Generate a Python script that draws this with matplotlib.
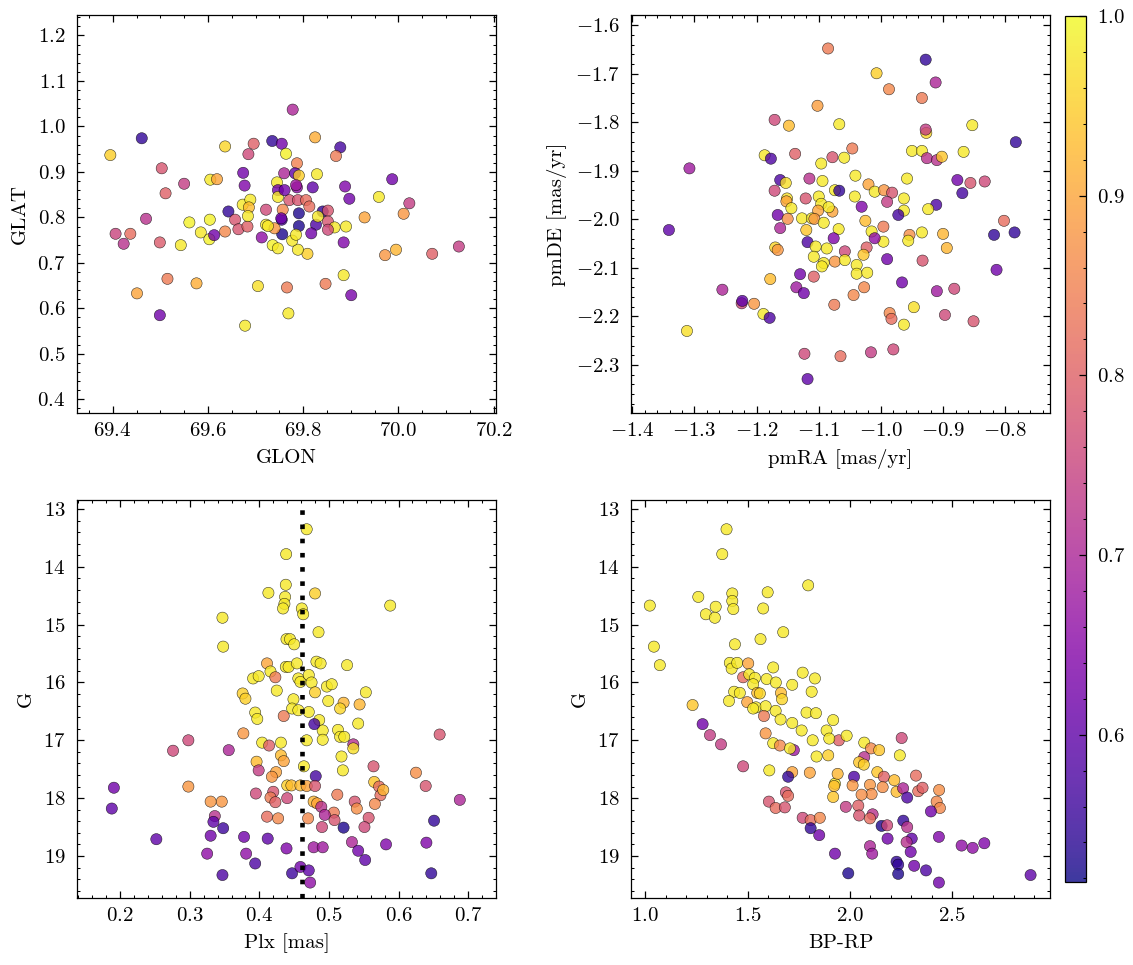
import matplotlib
matplotlib.use("Agg")
import matplotlib.pyplot as plt
from matplotlib.ticker import MultipleLocator
import numpy as np

# membership probability colour scale
p_min, p_max = 0.518, 1.0
plx_line = 0.461

# --- GLON / GLAT panel
glon = [69.395, 69.461, 69.503, 69.511, 69.550, 69.470, 69.406, 69.423, 69.437, 69.499,
        69.543, 69.561, 69.515, 69.451, 69.499, 69.576, 69.636, 69.696, 69.685, 69.605,
        69.619, 69.674, 69.677, 69.585, 69.604, 69.603, 69.613, 69.643, 69.636, 69.657,
        69.664, 69.683, 69.673, 69.689, 69.686, 69.684, 69.713, 69.705, 69.678, 69.766,
        69.769, 69.735, 69.755, 69.764, 69.760, 69.745, 69.747, 69.755, 69.756, 69.778,
        69.736, 69.747, 69.722, 69.722, 69.825, 69.878, 69.869, 69.787, 69.783, 69.829,
        69.791, 69.787, 69.820, 69.888, 69.897, 69.959, 70.023, 70.011, 69.987, 69.929,
        69.841, 69.852, 69.852, 69.866, 69.890, 69.827, 69.817, 69.791, 69.791, 69.885,
        69.972, 69.995, 70.071, 70.127, 69.809, 69.789, 69.777, 69.847, 69.885, 69.901,
        69.771, 69.789, 69.806, 69.757, 69.754, 69.852, 69.785, 69.740, 69.726, 69.747,
        69.761, 69.785, 69.813, 69.831]
glat = [0.937, 0.974, 0.908, 0.853, 0.874, 0.797, 0.764, 0.742, 0.764, 0.745,
        0.739, 0.789, 0.665, 0.633, 0.585, 0.655, 0.956, 0.962, 0.939, 0.883,
        0.884, 0.898, 0.870, 0.767, 0.795, 0.752, 0.761, 0.813, 0.769, 0.795,
        0.774, 0.780, 0.828, 0.839, 0.822, 0.803, 0.756, 0.649, 0.562, 0.646,
        0.589, 0.968, 0.962, 0.940, 0.897, 0.877, 0.860, 0.795, 0.763, 1.037,
        0.739, 0.732, 0.817, 0.784, 0.976, 0.954, 0.935, 0.919, 0.897, 0.895,
        0.892, 0.866, 0.866, 0.868, 0.841, 0.845, 0.831, 0.808, 0.884, 0.800,
        0.813, 0.815, 0.791, 0.778, 0.780, 0.784, 0.765, 0.809, 0.781, 0.745,
        0.717, 0.729, 0.720, 0.736, 0.720, 0.729, 0.749, 0.654, 0.673, 0.629,
        0.838, 0.838, 0.838, 0.817, 0.798, 0.773, 0.762, 0.776, 0.781, 0.845,
        0.860, 0.871, 0.824, 0.802]
prob_pos = [0.95, 0.55, 0.78, 0.80, 0.74, 0.72, 0.75, 0.72, 0.82, 0.79,
            0.98, 0.99, 0.84, 0.90, 0.62, 0.91, 0.96, 0.80, 0.76, 0.98,
            0.90, 0.62, 0.64, 0.98, 0.99, 0.99, 0.62, 0.55, 0.86, 0.78,
            0.78, 0.80, 0.98, 0.98, 0.93, 0.98, 0.66, 0.97, 0.98, 0.84,
            0.98, 0.55, 0.62, 0.99, 0.70, 0.98, 0.62, 0.58, 0.53, 0.70,
            0.99, 0.98, 0.76, 0.98, 0.91, 0.57, 0.84, 0.85, 0.60, 0.98,
            0.95, 0.66, 0.60, 0.64, 0.62, 0.98, 0.74, 0.88, 0.62, 0.90,
            0.55, 0.78, 0.78, 0.98, 0.98, 0.58, 0.62, 0.53, 0.53, 0.64,
            0.88, 0.92, 0.80, 0.74, 0.95, 0.98, 0.98, 0.84, 0.98, 0.63,
            0.78, 0.78, 0.82, 0.86, 0.62, 0.76, 0.98, 0.88, 0.98, 0.98,
            0.62, 0.68, 0.82, 0.98]

# --- proper motion panel
pmra = [-1.085, -1.102, -1.148, -1.171, -1.067, -1.187, -1.177, -1.138, -1.078, -1.308,
        -1.096, -1.162, -1.153, -1.115, -1.094, -1.171, -1.121, -1.074, -1.067, -1.151,
        -1.152, -1.144, -1.100, -1.096, -1.101, -1.078, -1.084, -1.127, -1.111, -1.107,
        -1.092, -1.166, -1.150, -1.162, -1.120, -1.068, -1.076, -1.118, -1.341, -1.170,
        -1.166, -1.105, -1.087, -1.108, -1.092, -1.095, -1.074, -1.178, -1.130, -1.108,
        -1.136, -1.124, -1.255, -1.224, -1.223, -1.204, -1.189, -1.179, -1.075, -1.312,
        -1.123, -1.118, -1.065,
        -0.928, -1.007, -0.912, -0.987, -0.934, -0.853, -0.927, -0.928, -0.783, -1.046,
        -1.059, -0.950, -0.934, -0.926, -0.910, -0.902, -0.867, -1.041, -0.958, -0.877,
        -0.856, -0.833, -0.869, -1.042, -1.020, -1.010, -0.995, -0.982, -0.990, -0.963,
        -0.963, -1.031, -0.972, -0.911, -0.924, -1.025, -0.996, -1.015, -0.996, -1.010,
        -0.954, -0.956, -0.934, -0.900, -0.894, -0.818, -0.785, -0.802, -0.814, -0.990,
        -0.933, -1.023, -1.028, -1.058, -1.039, -1.039, -1.022, -1.058, -0.966, -0.910,
        -0.882, -1.027, -1.044, -0.947, -0.986, -0.983, -0.963, -0.897, -0.851, -0.980,
        -1.016]
pmde = [-1.648, -1.766, -1.807, -1.795, -1.804, -1.868, -1.875, -1.865, -1.872, -1.895,
        -1.885, -1.919, -1.925, -1.916, -1.921, -1.941, -1.957, -1.940, -1.941, -1.957,
        -1.963, -1.977, -1.953, -1.968, -1.982, -1.984, -1.975, -1.998, -1.998, -1.999,
        -2.007, -1.991, -1.999, -2.018, -2.022, -2.020, -2.039, -2.047, -2.022, -2.058,
        -2.063, -2.056, -2.060, -2.077, -2.090, -2.097, -2.087, -2.123, -2.113, -2.118,
        -2.140, -2.152, -2.145, -2.173, -2.168, -2.174, -2.195, -2.203, -2.176, -2.230,
        -2.277, -2.329, -2.282,
        -1.671, -1.699, -1.718, -1.732, -1.750, -1.806, -1.822, -1.815, -1.841, -1.854,
        -1.873, -1.859, -1.859, -1.874, -1.878, -1.871, -1.861, -1.910, -1.916, -1.919,
        -1.925, -1.922, -1.946, -1.953, -1.928, -1.943, -1.940, -1.945, -1.964, -1.957,
        -1.982, -1.974, -1.991, -1.970, -1.979, -2.003, -2.015, -2.025, -2.046, -2.039,
        -2.032, -2.044, -2.027, -2.030, -2.059, -2.032, -2.027, -2.003, -2.104, -2.082,
        -2.085, -2.058, -2.073, -2.066, -2.094, -2.112, -2.110, -2.084, -2.130, -2.148,
        -2.143, -2.140, -2.156, -2.181, -2.193, -2.205, -2.217, -2.197, -2.210, -2.268,
        -2.274]
prob_pm = [0.84, 0.89, 0.93, 0.76, 0.98, 0.98, 0.58, 0.80, 0.78, 0.68,
           0.98, 0.58, 0.97, 0.72, 0.98, 0.76, 0.78, 0.98, 0.55, 0.97,
           0.90, 0.98, 0.98, 0.98, 0.90, 0.90, 0.98, 0.98, 0.98, 0.88,
           0.98, 0.62, 0.87, 0.70, 0.94, 0.98, 0.64, 0.58, 0.60, 0.96,
           0.88, 0.98, 0.98, 0.98, 0.98, 0.98, 0.88, 0.93, 0.62, 0.80,
           0.68, 0.62, 0.70, 0.76, 0.60, 0.88, 0.98, 0.58, 0.84, 0.97,
           0.76, 0.60, 0.82,
           0.55, 0.95, 0.70, 0.86, 0.84, 0.98, 0.96, 0.74, 0.55, 0.84,
           0.98, 0.98, 0.98, 0.72, 0.72, 0.94, 0.98, 0.98, 0.98, 0.62,
           0.78, 0.76, 0.57, 0.98, 0.90, 0.98, 0.88, 0.78, 0.74, 0.98,
           0.98, 0.64, 0.57, 0.58, 0.98, 0.93, 0.84, 0.98, 0.98, 0.66,
           0.87, 0.98, 0.98, 0.92, 0.92, 0.55, 0.55, 0.82, 0.62, 0.62,
           0.78, 0.80, 0.94, 0.76, 0.98, 0.98, 0.98, 0.98, 0.62, 0.68,
           0.76, 0.86, 0.86, 0.97, 0.86, 0.82, 0.98, 0.76, 0.78, 0.76,
           0.74]

# --- parallax vs G panel
plx = [0.4385, 0.413, 0.438, 0.437, 0.436, 0.434, 0.347, 0.348, 0.439, 0.411,
       0.416, 0.423, 0.391, 0.399, 0.438, 0.425, 0.376, 0.380, 0.435, 0.394,
       0.397, 0.377, 0.404, 0.431, 0.414, 0.298, 0.276, 0.356, 0.431, 0.435,
       0.396, 0.399, 0.424, 0.418, 0.298, 0.191, 0.188, 0.440, 0.395, 0.420,
       0.416, 0.423, 0.440, 0.330, 0.346, 0.411, 0.427, 0.336, 0.334, 0.348,
       0.330, 0.252, 0.378, 0.412, 0.325, 0.381, 0.394, 0.347, 0.439, 0.447,
       0.468, 0.480, 0.588, 0.461, 0.463, 0.485, 0.444, 0.450, 0.482, 0.488,
       0.526, 0.442, 0.454, 0.456, 0.459, 0.471, 0.475, 0.480, 0.497, 0.504,
       0.499, 0.553, 0.521, 0.516, 0.544, 0.449, 0.447, 0.456, 0.471, 0.486,
       0.491, 0.491, 0.479, 0.542, 0.513, 0.516, 0.522, 0.535, 0.535, 0.659,
       0.468, 0.518, 0.520, 0.464, 0.481, 0.564, 0.625, 0.639, 0.688, 0.565,
       0.572, 0.574, 0.566, 0.578, 0.446, 0.459, 0.468, 0.480, 0.478, 0.483,
       0.489, 0.512, 0.537, 0.540, 0.507, 0.494, 0.470, 0.508, 0.557, 0.490,
       0.521, 0.551, 0.651, 0.533, 0.542, 0.552, 0.582, 0.640, 0.647, 0.478,
       0.491, 0.459, 0.471, 0.473]
g_plx = [13.78, 14.45, 14.31, 14.52, 14.64, 14.72, 14.88, 15.38, 15.25, 15.67,
         15.81, 15.91, 15.93, 15.89, 15.73, 16.14, 16.19, 16.28, 16.58, 16.52,
         16.63, 16.88, 17.04, 17.04, 17.09, 17.00, 17.18, 17.17, 17.26, 17.36,
         17.37, 17.52, 17.55, 17.63, 17.80, 17.82, 18.18, 17.78, 17.92, 17.89,
         17.99, 18.07, 18.00, 18.06, 18.06, 18.32, 18.35, 18.31, 18.41, 18.52,
         18.65, 18.71, 18.67, 18.70, 18.96, 18.96, 19.13, 19.33, 18.87, 19.30,
         13.35, 14.46, 14.67, 14.72, 14.82, 15.13, 15.25, 15.34, 15.64, 15.67,
         15.70, 15.73, 15.67, 15.93, 15.99, 15.87, 16.00, 16.17, 16.07, 16.03,
         16.32, 16.17, 16.35, 16.45, 16.38, 16.29, 16.45, 16.48, 16.51, 16.65,
         16.83, 16.99, 16.72, 16.71, 16.82, 16.94, 16.94, 17.07, 17.14, 16.90,
         17.00, 17.28, 17.52, 17.45, 17.62, 17.45, 17.56, 17.79, 18.03, 17.72,
         17.80, 17.95, 18.10, 17.86, 17.78, 17.78, 17.79, 17.79, 18.06, 18.09,
         18.15, 17.94, 18.06, 18.18, 18.25, 18.29, 18.35, 18.38, 18.34, 18.50,
         18.51, 18.50, 18.39, 18.76, 18.91, 19.07, 18.80, 18.77, 19.30, 18.85,
         18.85, 19.19, 19.25, 19.46]
prob_plx = [0.98, 0.98, 0.98, 0.98, 0.98, 0.98, 0.98, 0.98, 0.98, 0.90,
            0.98, 0.84, 0.98, 0.98, 0.98, 0.98, 0.95, 0.95, 0.84, 0.98,
            0.98, 0.88, 0.98, 0.98, 0.80, 0.76, 0.76, 0.70, 0.93, 0.90,
            0.93, 0.74, 0.90, 0.88, 0.88, 0.62, 0.60, 0.95, 0.76, 0.78,
            0.84, 0.80, 0.76, 0.88, 0.88, 0.82, 0.86, 0.72, 0.60, 0.56,
            0.62, 0.60, 0.62, 0.60, 0.66, 0.66, 0.58, 0.58, 0.64, 0.56,
            0.98, 0.95, 0.98, 0.98, 0.98, 0.98, 0.98, 0.98, 0.98, 0.98,
            0.98, 0.98, 0.98, 0.98, 0.98, 0.98, 0.98, 0.95, 0.98, 0.98,
            0.98, 0.98, 0.92, 0.96, 0.92, 0.98, 0.98, 0.98, 0.98, 0.98,
            0.98, 0.98, 0.57, 0.98, 0.98, 0.98, 0.98, 0.72, 0.97, 0.78,
            0.98, 0.98, 0.98, 0.98, 0.57, 0.78, 0.87, 0.78, 0.70, 0.94,
            0.82, 0.82, 0.86, 0.92, 0.93, 0.93, 0.90, 0.78, 0.92, 0.90,
            0.72, 0.84, 0.78, 0.87, 0.84, 0.70, 0.86, 0.78, 0.78, 0.76,
            0.53, 0.76, 0.55, 0.70, 0.62, 0.60, 0.64, 0.64, 0.55, 0.68,
            0.68, 0.62, 0.60, 0.66]

# --- colour-magnitude panel
bp_rp = [1.397, 1.376, 1.022, 1.259, 1.296, 1.344, 1.340, 1.425, 1.425, 1.430,
         1.598, 1.576, 1.796, 1.042, 1.071, 1.438, 1.563, 1.674, 1.413, 1.422,
         1.449, 1.503, 1.478, 1.508, 1.536, 1.527, 1.625, 1.593, 1.638, 1.718,
         1.769, 1.829, 1.813, 1.434, 1.462, 1.547, 1.560, 1.409, 1.498, 1.663,
         1.668, 1.541, 1.588, 1.637, 1.661, 1.788, 1.834, 1.231, 1.580, 1.718,
         1.764, 1.818, 1.588, 1.625, 1.658, 1.726, 1.707, 1.837, 1.894, 1.606,
         1.718, 1.804, 1.698, 1.280, 1.316, 1.370, 1.478, 1.687, 1.698, 1.604,
         1.637, 1.682, 1.769, 1.808, 1.853, 1.808, 1.850, 1.927, 1.927, 1.918,
         1.946, 1.918, 1.886, 1.899, 1.984, 2.070, 2.253, 2.103, 2.143, 2.244,
         2.070, 2.045, 2.068, 1.940, 1.923, 2.020, 2.013, 2.098, 2.134, 2.166,
         2.160, 2.217, 2.323, 2.228, 2.106, 2.057, 2.260, 2.280, 2.334, 2.355,
         2.436, 2.424, 2.440, 2.396, 1.980, 2.041, 2.045, 2.111, 2.098, 2.155,
         2.182, 2.261, 2.280, 2.184, 2.302, 2.277, 2.297, 2.435, 2.098, 2.109,
         2.546, 2.600, 2.657, 2.228, 2.236, 2.314, 2.372, 1.992, 2.236, 2.435,
         2.883, 1.527]
g_col = [13.35, 13.78, 14.67, 14.52, 14.82, 14.69, 14.88, 14.46, 14.59, 14.73,
         14.44, 14.72, 14.32, 15.38, 15.70, 15.34, 15.25, 15.13, 15.66, 15.76,
         15.66, 15.67, 15.91, 15.86, 15.92, 16.03, 15.74, 15.94, 16.00, 16.04,
         15.83, 15.93, 16.16, 16.16, 16.18, 16.18, 16.19, 16.32, 16.34, 16.18,
         16.29, 16.43, 16.41, 16.49, 16.64, 16.52, 16.53, 16.39, 16.58, 16.70,
         16.83, 17.00, 16.88, 17.05, 17.09, 17.17, 17.14, 17.28, 17.26, 17.52,
         17.55, 17.56, 17.63, 16.72, 16.91, 17.07, 17.45, 17.90, 17.96, 18.06,
         18.17, 18.16, 18.34, 18.38, 18.34, 18.52, 18.64, 18.96, 17.75, 17.98,
         17.00, 16.65, 16.83, 16.97, 16.92, 17.04, 16.96, 17.14, 17.17, 17.26,
         17.29, 17.38, 17.42, 17.58, 17.79, 17.63, 17.78, 17.77, 17.55, 17.63,
         17.81, 17.69, 17.61, 17.89, 17.93, 17.94, 17.83, 17.99, 17.88, 17.82,
         17.86, 18.06, 18.17, 18.23, 18.15, 18.13, 18.30, 18.28, 18.35, 18.48,
         18.47, 18.39, 18.50, 18.70, 18.70, 18.76, 18.93, 18.67, 18.83, 18.96,
         18.82, 18.86, 18.78, 19.10, 19.15, 19.17, 19.25, 19.30, 19.31, 19.46,
         19.33, 16.45]
prob_col = [0.98, 0.98, 0.98, 0.98, 0.98, 0.98, 0.98, 0.98, 0.98, 0.98,
            0.98, 0.98, 0.98, 0.98, 0.98, 0.98, 0.98, 0.98, 0.98, 0.98,
            0.98, 0.90, 0.82, 0.98, 0.98, 0.98, 0.98, 0.98, 0.98, 0.98,
            0.98, 0.98, 0.98, 0.98, 0.98, 0.93, 0.96, 0.98, 0.90, 0.93,
            0.96, 0.98, 0.98, 0.98, 0.98, 0.98, 0.98, 0.94, 0.84, 0.98,
            0.98, 0.98, 0.88, 0.98, 0.86, 0.68, 0.98, 0.98, 0.95, 0.98,
            0.90, 0.90, 0.55, 0.62, 0.74, 0.74, 0.76, 0.78, 0.82, 0.78,
            0.82, 0.78, 0.76, 0.82, 0.86, 0.55, 0.62, 0.62, 0.98, 0.94,
            0.80, 0.98, 0.98, 0.98, 0.98, 0.98, 0.76, 0.86, 0.94, 0.98,
            0.72, 0.94, 0.95, 0.92, 0.93, 0.58, 0.88, 0.88, 0.94, 0.80,
            0.87, 0.93, 0.82, 0.93, 0.87, 0.87, 0.70, 0.58, 0.82, 0.80,
            0.87, 0.86, 0.86, 0.62, 0.74, 0.80, 0.78, 0.72, 0.82, 0.53,
            0.76, 0.55, 0.72, 0.62, 0.60, 0.72, 0.62, 0.64, 0.70, 0.68,
            0.66, 0.66, 0.64, 0.55, 0.55, 0.62, 0.58, 0.53, 0.53, 0.62,
            0.60, 0.98]

plt.rcParams.update({
    "font.family": "serif",
    "font.serif": ["cmr10"],
    "mathtext.fontset": "cm",
    "axes.formatter.use_mathtext": True,
    "axes.unicode_minus": True,
    "font.size": 10,
    "axes.linewidth": 0.6,
    "xtick.direction": "in",
    "ytick.direction": "in",
    "xtick.top": True,
    "ytick.right": True,
    "xtick.major.size": 3.2,
    "ytick.major.size": 3.2,
    "xtick.minor.size": 1.6,
    "ytick.minor.size": 1.6,
    "xtick.major.width": 0.6,
    "ytick.major.width": 0.6,
    "xtick.minor.width": 0.5,
    "ytick.minor.width": 0.5,
    "xtick.minor.visible": True,
    "ytick.minor.visible": True,
    "xtick.major.pad": 4.5,
    "ytick.major.pad": 5.5,
})

W, H = 1133, 965
fig = plt.figure(figsize=(W / 150, H / 150), dpi=150)


def box(left, top, right, bottom):
    return [left / W, 1 - bottom / H, (right - left) / W, (bottom - top) / H]


ax1 = fig.add_axes(box(77, 15, 496, 413))
ax2 = fig.add_axes(box(631, 15, 1050, 413))
ax3 = fig.add_axes(box(77, 500, 496, 898))
ax4 = fig.add_axes(box(631, 500, 1050, 898))
cax = fig.add_axes(box(1065, 16, 1086, 882))

kw = dict(cmap="plasma", vmin=p_min, vmax=p_max, s=29, alpha=0.8,
          edgecolors="k", linewidths=0.25)

sc = ax1.scatter(glon, glat, c=prob_pos, **kw)
ax1.set_xlim(69.325, 70.205)
ax1.set_ylim(0.370, 1.245)
ax1.set_xlabel("GLON")
ax1.set_ylabel("GLAT")

ax2.scatter(pmra, pmde, c=prob_pm, **kw)
ax2.set_xlim(-1.402, -0.728)
ax2.set_ylim(-2.399, -1.579)
ax2.xaxis.set_major_locator(MultipleLocator(0.1))
ax2.set_xlabel("pmRA [mas/yr]")
ax2.set_ylabel("pmDE [mas/yr]")

ax3.scatter(plx, g_plx, c=prob_plx, **kw)
ax3.axvline(plx_line, color="k", lw=2.2, ls=(0, (1, 2.1)))
ax3.set_xlim(0.138, 0.740)
ax3.set_ylim(19.727, 12.844)
ax3.xaxis.set_major_locator(MultipleLocator(0.1))
ax3.set_xlabel("Plx [mas]")
ax3.set_ylabel("G")

ax4.scatter(bp_rp, g_col, c=prob_col, **kw)
ax4.set_xlim(0.930, 2.978)
ax4.set_ylim(19.727, 12.844)
ax4.set_xlabel("BP-RP")
ax4.set_ylabel("G")

cb = fig.colorbar(sc, cax=cax)
cb.outline.set_linewidth(0.6)
cax.minorticks_on()
cax.tick_params(which="both", direction="in")

plt.savefig("out.png", dpi=150)
